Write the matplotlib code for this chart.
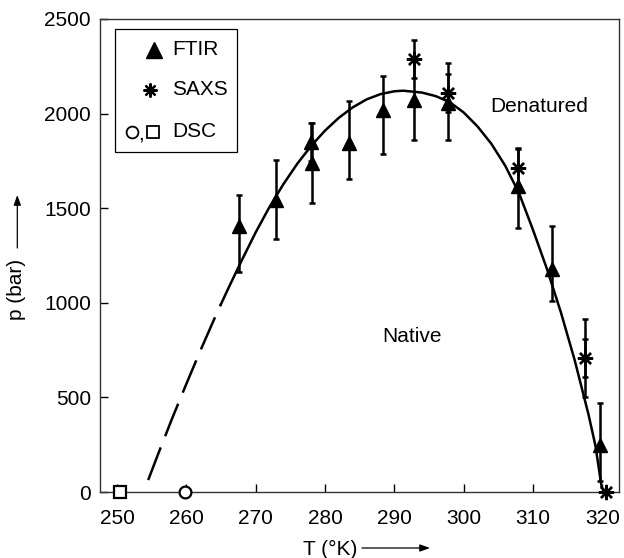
import matplotlib
matplotlib.use("Agg")
import matplotlib.pyplot as plt
from matplotlib.patches import Rectangle, FancyArrowPatch

plt.rcParams['font.family'] = ['Liberation Sans', 'DejaVu Sans']
plt.rcParams['font.size'] = 15

# FTIR points (T in K, p in bar) with lower / upper error
ftir_T = [267.6, 273.0, 278.0, 278.1, 283.5, 288.3, 292.9, 297.7, 307.8, 312.7, 319.7]
ftir_p = [1405, 1545, 1850, 1737, 1845, 2020, 2072, 2054, 1617, 1180, 250]
ftir_lo = [240, 208, 100, 211, 192, 235, 212, 194, 220, 170, 190]
ftir_hi = [165, 210, 100, 213, 222, 180, 212, 215, 200, 228, 219]

# SAXS points
saxs_T = [292.9, 297.8, 307.8, 317.5, 320.5]
saxs_p = [2287, 2107, 1711, 707, 0]
saxs_err = [100, 100, 100, 100, 0]
saxs_outer_err = [0, 0, 0, 205, 0]

# DSC points
dsc_sq_T = [250.4]
dsc_sq_p = [0]
dsc_ci_T = [259.8]
dsc_ci_p = [0]

# phase boundary
curve_T = [254.5, 256, 258, 260, 262, 264, 265, 266, 268, 270, 272, 274, 276, 278,
           280, 282, 284, 286, 288, 290, 291.3, 294, 296, 298, 300, 302, 304,
           306, 308, 310, 312, 314, 316, 318, 319, 319.9]
curve_p = [63, 207, 393, 571, 745, 912, 993, 1072, 1225, 1372, 1507, 1627, 1735, 1829,
           1910, 1978, 2033, 2075, 2103, 2118, 2121, 2111, 2092, 2060, 2006, 1932, 1840,
           1724, 1578, 1385, 1180, 952, 698, 410, 245, 25]
dash_end = 7  # dashed part: points up to 265 K

fig = plt.figure(figsize=(6.24, 5.58), dpi=100)
ax = fig.add_axes([100 / 624, 66 / 558, 519 / 624, 473 / 558])

ax.plot(curve_T[:dash_end], curve_p[:dash_end], color='k', lw=1.8,
        dashes=(14, 4.8))
ax.plot(curve_T[dash_end - 1:], curve_p[dash_end - 1:], color='k', lw=1.8)

ax.errorbar(ftir_T, ftir_p, yerr=[ftir_lo, ftir_hi], fmt='^', color='k',
            ms=10, elinewidth=1.8, capsize=2.5, capthick=1.8)
ax.errorbar(saxs_T, saxs_p, yerr=saxs_outer_err, fmt='none', ecolor='k',
            elinewidth=1.8, capsize=2.5, capthick=1.8)
ax.errorbar(saxs_T[:-1], saxs_p[:-1], yerr=saxs_err[:-1], fmt='none', ecolor='k',
            elinewidth=1.8, capsize=2.5, capthick=1.8)
ax.plot(saxs_T, saxs_p, ls='none', marker=(8, 2, 0), ms=11, mew=1.7,
        color='k', clip_on=False, zorder=4)
ax.plot(dsc_sq_T, dsc_sq_p, ls='none', marker='s', ms=8.5, mfc='white',
        mec='k', mew=1.6, clip_on=False, zorder=4)
ax.plot(dsc_ci_T, dsc_ci_p, ls='none', marker='o', ms=8.5, mfc='white',
        mec='k', mew=1.6, clip_on=False, zorder=4)

ax.set_xlim(247.55, 322.4)
ax.set_ylim(0, 2500)
ax.set_xticks([250, 260, 270, 280, 290, 300, 310, 320])
ax.set_yticks([0, 500, 1000, 1500, 2000, 2500])
ax.tick_params(direction='in', length=5.5, width=1, top=False, right=False)
ax.tick_params(axis='x', pad=12)
ax.tick_params(axis='y', pad=6.5)
for s in ax.spines.values():
    s.set_linewidth(1.0)
    s.set_color('#333333')

ax.text(303.8, 2008, 'Denatured', ha='left', va='baseline')
ax.text(288.2, 794, 'Native', ha='left', va='baseline')

# legend box
ax.add_patch(Rectangle((0.029, 0.7195), 0.2345, 0.2594, transform=ax.transAxes,
                       fc='white', ec='k', lw=0.9, zorder=5))
ax.plot([0.105], [0.935], marker='^', ms=12, color='k', transform=ax.transAxes,
        zorder=6, clip_on=False)
ax.plot([0.0955], [0.850], marker=(8, 2, 0), ms=10, mew=1.6, color='k',
        transform=ax.transAxes, zorder=6, clip_on=False)
ax.plot([0.0626], [0.762], marker='o', ms=8.5, mfc='white', mec='k', mew=1.3,
        transform=ax.transAxes, zorder=6, clip_on=False)
ax.plot([0.1027], [0.762], marker='s', ms=8.5, mfc='white', mec='k', mew=1.3,
        transform=ax.transAxes, zorder=6, clip_on=False)
ax.text(0.079, 0.745, ',', transform=ax.transAxes, ha='center', va='baseline', zorder=6)
ax.text(0.139, 0.935, 'FTIR', transform=ax.transAxes, va='center', zorder=6)
ax.text(0.139, 0.850, 'SAXS', transform=ax.transAxes, va='center', zorder=6)
ax.text(0.139, 0.762, 'DSC', transform=ax.transAxes, va='center', zorder=6)

# axis labels with arrows
fig.text(303 / 624, 3 / 558, 'T (°K)', ha='left', va='baseline')
fig.text(16 / 624, 1 - 289 / 558, 'p (bar)', rotation=90, ha='center', va='center')
fig.add_artist(FancyArrowPatch(
    (362 / 624, 1 - 548 / 558), (430 / 624, 1 - 548 / 558),
    transform=fig.transFigure, arrowstyle='-|>,head_length=0.5,head_width=0.18',
    mutation_scale=12, lw=0.9, color='k', shrinkA=0, shrinkB=0))
fig.add_artist(FancyArrowPatch(
    (17.3 / 624, 1 - 248 / 558), (17.3 / 624, 1 - 195 / 558),
    transform=fig.transFigure, arrowstyle='-|>,head_length=0.5,head_width=0.18',
    mutation_scale=12, lw=0.9, color='k', shrinkA=0, shrinkB=0))

fig.savefig('out.png', dpi=100)
